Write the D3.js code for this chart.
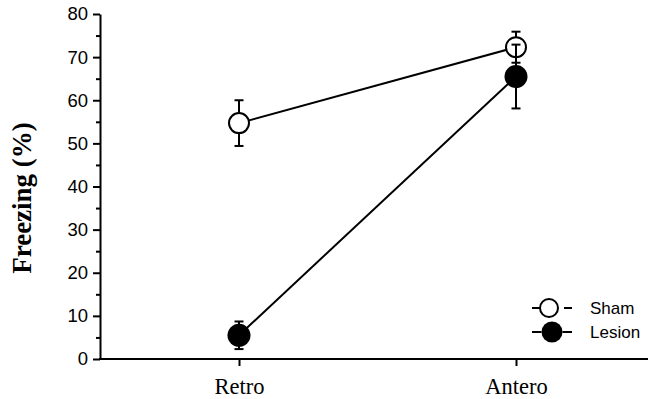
<!DOCTYPE html>
<html>
<head>
<meta charset="utf-8">
<script src="https://cdn.jsdelivr.net/npm/d3@7"></script>
<style>
  html, body { margin: 0; padding: 0; background: #fff; }
  svg { display: block; }
</style>
</head>
<body>
<svg id="chart" width="648" height="399"></svg>
<script>
// Freezing (%) by test context for sham and lesioned groups (mean ± SEM)
const conditions = ["Retro", "Antero"];
const shamMean = [54.7, 72.3];
const shamErr = [5.3, 3.6];
const lesionMean = [5.5, 65.5];
const lesionErr = [3.2, 7.4];
const yMajorTicks = [0, 10, 20, 30, 40, 50, 60, 70, 80];
const yMinorTicks = [5, 15, 25, 35, 45, 55, 65, 75];
const seriesNames = ["Sham", "Lesion"];

const svg = d3.select("#chart");
const sans = "'Liberation Sans', Arial, Helvetica, sans-serif";
const serif = "'Liberation Serif', 'Times New Roman', Times, serif";

const axisLeftX = 100, axisRightX = 648;
const y = d3.scaleLinear().domain([0, 80]).range([359, 14]);
const x = d3.scalePoint().domain(conditions).range([239, 516]);

// Y axis: major ticks with labels, minor ticks unlabeled
const yMajor = svg.append("g")
  .attr("transform", `translate(${axisLeftX},0)`)
  .call(d3.axisLeft(y).tickValues(yMajorTicks).tickSize(7).tickSizeOuter(0).tickPadding(5));
yMajor.select(".domain").attr("stroke-width", 2);
yMajor.selectAll(".tick line").attr("stroke-width", 2);
yMajor.selectAll(".tick text")
  .attr("font-family", sans).attr("font-size", 18.5).attr("fill", "#000");

const yMinor = svg.append("g")
  .attr("transform", `translate(${axisLeftX},0)`)
  .call(d3.axisLeft(y).tickValues(yMinorTicks).tickSize(4).tickFormat(""));
yMinor.select(".domain").remove();
yMinor.selectAll(".tick line").attr("stroke-width", 2);

// X axis baseline across the full width, with point ticks below
svg.append("line")
  .attr("x1", axisLeftX - 1).attr("x2", axisRightX)
  .attr("y1", y(0)).attr("y2", y(0))
  .attr("stroke", "#000").attr("stroke-width", 2);

const xAxis = svg.append("g")
  .attr("transform", `translate(0,${y(0)})`)
  .call(d3.axisBottom(x).tickSize(7).tickPadding(12));
xAxis.select(".domain").remove();
xAxis.selectAll(".tick line").attr("stroke-width", 2);
xAxis.selectAll(".tick text")
  .attr("font-family", serif).attr("font-size", 22.5).attr("fill", "#000");

// Y axis title
svg.append("text")
  .attr("transform", "translate(31,198) rotate(-90)")
  .attr("text-anchor", "middle")
  .attr("font-family", serif).attr("font-weight", "bold").attr("font-size", 27)
  .text("Freezing (%)");

const line = d3.line().x((d, i) => x(conditions[i])).y(d => y(d));

function drawLine(means) {
  svg.append("path").datum(means)
    .attr("d", line).attr("fill", "none")
    .attr("stroke", "#000").attr("stroke-width", 2);
}

function drawErrors(means, errs) {
  const g = svg.append("g").attr("stroke", "#000").attr("stroke-width", 2);
  means.forEach((m, i) => {
    const cx = x(conditions[i]);
    const top = y(m + errs[i]), bot = y(m - errs[i]);
    g.append("line").attr("x1", cx).attr("x2", cx).attr("y1", top).attr("y2", bot);
    g.append("line").attr("x1", cx - 4.5).attr("x2", cx + 4.5).attr("y1", top).attr("y2", top);
    g.append("line").attr("x1", cx - 4.5).attr("x2", cx + 4.5).attr("y1", bot).attr("y2", bot);
  });
}

function drawPoints(means, filled) {
  svg.append("g").selectAll("circle").data(means).join("circle")
    .attr("cx", (d, i) => x(conditions[i]))
    .attr("cy", d => y(d))
    .attr("r", filled ? 11.5 : 10)
    .attr("fill", filled ? "#000" : "#fff")
    .attr("stroke", "#000").attr("stroke-width", filled ? 0 : 2);
}

drawLine(shamMean);
drawLine(lesionMean);
drawErrors(shamMean, shamErr);
drawPoints(shamMean, false);
drawErrors(lesionMean, lesionErr);
drawPoints(lesionMean, true);

// Legend: short line segments either side of each marker
const legend = svg.append("g");
seriesNames.forEach((name, i) => {
  const ly = 308 + i * 24;
  const cx = i === 0 ? 549 : 552;
  const r = i === 0 ? 9 : 10.5;
  legend.append("line")
    .attr("x1", 532).attr("x2", cx - r).attr("y1", ly).attr("y2", ly)
    .attr("stroke", "#000").attr("stroke-width", 2);
  legend.append("line")
    .attr("x1", i === 0 ? cx + r + 6 : cx + r).attr("x2", 572).attr("y1", ly).attr("y2", ly)
    .attr("stroke", "#000").attr("stroke-width", 2);
  legend.append("circle")
    .attr("cx", cx).attr("cy", ly).attr("r", r)
    .attr("fill", i === 0 ? "#fff" : "#000")
    .attr("stroke", "#000").attr("stroke-width", i === 0 ? 2 : 0);
  legend.append("text")
    .attr("x", 590).attr("y", ly + 6)
    .attr("font-family", sans).attr("font-size", 17).attr("fill", "#000")
    .text(name);
});
</script>
</body>
</html>
